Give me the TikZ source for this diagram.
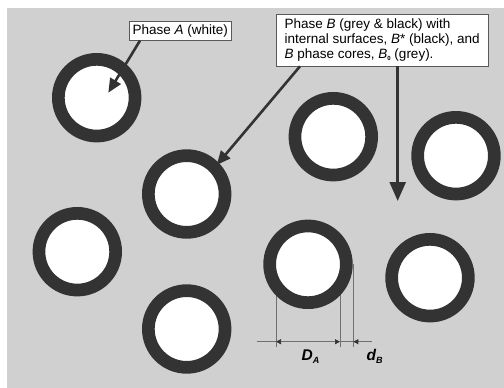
\documentclass[tikz,border=0pt]{standalone}
\usepackage{fontspec}
\setmainfont{Liberation Sans}
\usetikzlibrary{arrows.meta,calc}
\definecolor{bggrey}{HTML}{D0D0D0}
\definecolor{ringc}{HTML}{333333}
\definecolor{dimc}{HTML}{707070}
\begin{document}
\begin{tikzpicture}[x=1pt,y=-1pt,
  ring/.style={circle,draw=ringc,line width=12.7pt,fill=white,minimum size=76.7pt,inner sep=0pt},
  callout/.style={draw=black!65,line width=0.6pt,fill=white,font=\fontsize{13.5}{15}\selectfont,
    inner sep=0pt,anchor=north west},
  pointer/.style={draw=ringc,line width=2.6pt,-{Triangle[length=14pt,width=12pt]}},
  bigpointer/.style={draw=ringc,line width=2.6pt,-{Triangle[length=19pt,width=16pt]}},
  dimline/.style={draw=dimc,line width=0.7pt,>={Triangle[length=5pt,width=5pt,color=ringc]}},
  dimtext/.style={font=\fontsize{15.5}{15.5}\selectfont\bfseries\itshape,inner sep=0pt,anchor=base west}]
  \useasboundingbox (0,0) rectangle (504,388);
  % grey matrix
  \fill[bggrey] (7,8) rectangle (504,388);

  % extension lines of the dimensioning (partly hidden under the ring)
  \coordinate (e1) at (276,264.3);
  \coordinate (e2) at (340,264.3);
  \coordinate (e3) at (353.3,264.3);
  \coordinate (f1) at (276,346.7);
  \coordinate (f2) at (340,346.7);
  \coordinate (f3) at (353.3,346.7);
  \draw[dimline] (e1) -- (f1);
  \draw[dimline] (e2) -- (f2);
  \draw[dimline] (e3) -- (f3);

  % particles: white phase A cores with dark B* shells
  \node[ring] (c1) at (96.7,97.7) {};
  \node[ring] (c2) at (186.7,194) {};
  \node[ring] (c3) at (333.3,136.7) {};
  \node[ring] (c4) at (456,155.7) {};
  \node[ring] (c5) at (77.3,251.7) {};
  \node[ring] (c6) at (186.7,329) {};
  \node[ring] (c7) at (308,264.3) {};
  \node[ring] (c8) at (430,277.7) {};

  % dimension line
  \coordinate (d0) at (256.7,341.7);
  \coordinate (d1) at (276,341.7);
  \coordinate (d2) at (340,341.7);
  \coordinate (d3) at (353.3,341.7);
  \coordinate (d4) at (371.7,341.7);
  \draw[dimline] (d0) -- (d1);
  \draw[dimline,<->] (d1) -- (d2);
  \draw[dimline] (d2) -- (d3);
  \draw[dimline,->] (d4) -- (d3);
  \node[dimtext] (DA) at (301.5,360.7) {D\raisebox{-2.6pt}{\fontsize{9}{9}\selectfont A}};
  \node[dimtext] (dB) at (366.5,360.7) {d\raisebox{-2.6pt}{\fontsize{9}{9}\selectfont B}};

  % callouts
  \node[callout,minimum width=102.6pt,minimum height=19.3pt] (boxA) at (128.7,20.7)
    {Phase \textit{A} (white)};
  \node[callout,minimum width=211.7pt,minimum height=51.7pt,align=left] (boxB) at (276,14)
    {Phase \textit{B} (grey \& black) with\\
     internal surfaces, \textit{B}* (black), and\\
     \textit{B} phase cores, \textit{B}\raisebox{-2pt}{\fontsize{6}{6}\selectfont\bfseries 0} (grey).};

  % pointers
  \coordinate (tA) at (108.3,92.7);
  \coordinate (tB) at (216.7,165);
  \coordinate (tC) at (397.7,201);
  \draw[pointer] ($(boxA.south west)+(11.3,0)$) -- (tA);
  \draw[pointer] ($(boxB.south west)+(24,0)$) -- (tB);
  \draw[bigpointer] ($(boxB.south west)+(121.7,0)$) -- (tC);
\end{tikzpicture}
\end{document}
